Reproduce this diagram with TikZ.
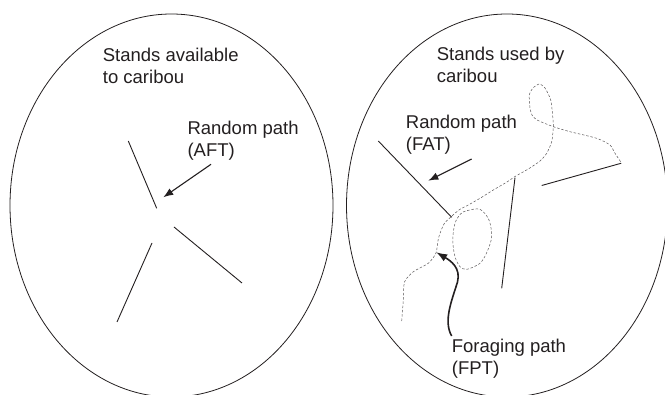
\documentclass[tikz,border=0pt]{standalone}
\usepackage{fontspec}
\setmainfont{Liberation Sans}
\usetikzlibrary{arrows.meta}
\definecolor{ink}{HTML}{231F20}
\tikzset{
  lbl/.style={anchor=base west, inner sep=0pt, align=left, text=ink,
    font=\fontsize{18.5}{22}\selectfont},
  rim/.style={draw=ink, line width=0.8pt},
  stand/.style={draw=ink, line width=0.9pt},
  track/.style={draw=ink!75, line width=0.5pt, dash pattern=on 2.5pt off 1.8pt},
  pointer/.style={draw=ink, line width=1.1pt, -{Latex[length=10pt,width=7.5pt]}},
  pointerb/.style={draw=ink, line width=1.6pt, -{Latex[length=11pt,width=8pt]}}
}
\begin{document}
\begin{tikzpicture}[x=1pt,y=-1pt]
\useasboundingbox (0,0) rectangle (665,395);
% ellipses
\draw[rim] (171.5,205.5) ellipse [x radius=161.5, y radius=191.5];
\draw[rim] (507,205.5) ellipse [x radius=160.5, y radius=191.5];
% left panel
\node[lbl] (ltitle) at (102.7,83.3) {Stands available\\to caribou};
\node[lbl] (lrand) at (187.3,157) {Random path\\(AFT)};
\draw[stand] (128.3,141) -- (156.7,208.3);
\draw[stand] (152,243) -- (117,322);
\draw[stand] (174,227) -- (242,283);
\coordinate (la0) at (211,164.3);
\coordinate (la1) at (163.3,197.3);
\draw[pointer] (la0) -- (la1);
% right panel
\node[lbl] (rtitle) at (436.7,82.7) {Stands used by\\caribou};
\node[lbl] (rrand) at (405.7,150.7) {Random path\\(FAT)};
\node[lbl] (rfor) at (451.7,375) {Foraging path\\(FPT)};
\draw[stand] (378.3,141) -- (451.7,217.3);
\draw[stand] (515,177.7) -- (501.7,288.3);
\draw[stand] (541.7,185.5) -- (621,163.3);
\coordinate (ra0) at (471.7,159);
\coordinate (ra1) at (428.3,180.7);
\draw[pointer] (ra0) -- (ra1);
% dashed caribou track
\draw[track] plot[smooth, tension=0.4] coordinates {
  (401.7,321) (403.3,300) (404.5,282) (413.3,271.7) (428.3,263.3) (436,253)
  (438.5,238) (444,224) (453,215) (460,209.3) (468.3,205) (480,198.3)
  (493.3,190) (507,182) (515,176.5) (528.3,169) (540,161) (546.7,153.3)
  (551.7,141.7) (553.3,127) (552.7,116) (550.7,100) (545,88) (539.3,84)
  (533,88) (529.3,95) (530,108) (532,115) (537,120) (553.3,126.7) (570,131.7)
  (596.7,138.3) (610,145) (615,153.3) (621.7,163.3)};
\draw[track] plot[smooth cycle, tension=0.5] coordinates {
  (466.7,210.7) (480,209.3) (489,220) (491.7,236.7) (487,252) (480,263.3)
  (467,269.3) (460,266.7) (455,256.7) (452.7,240) (455,223.3) (460.5,214)};
\coordinate (fa0) at (451.7,336);
\coordinate (fa1) at (436.2,252.2);
\draw[pointerb] (fa0) .. controls (443,321) and (452,300) .. (457.5,282)
  .. controls (461,268) and (451,261) .. (fa1);
\end{tikzpicture}
\end{document}
